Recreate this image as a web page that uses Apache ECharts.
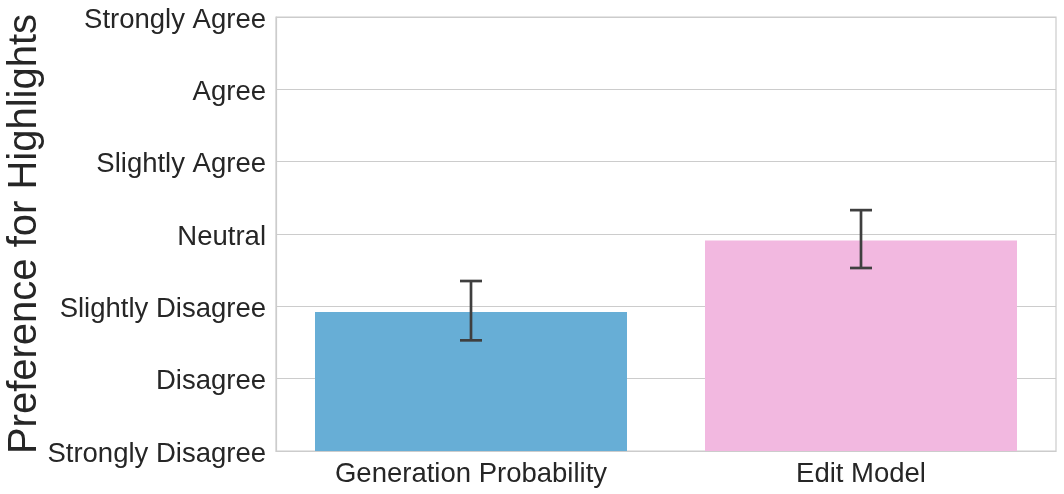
<!DOCTYPE html>
<html>
<head>
<meta charset="utf-8">
<script src="https://cdn.jsdelivr.net/npm/echarts@6/dist/echarts.min.js"></script>
<style>html,body{margin:0;padding:0;background:#fff;}#c{width:1064px;height:494px;}</style>
</head>
<body>
<div id="c"></div>
<script>
const categories = ['Generation Probability', 'Edit Model'];
const means = [2.92, 3.91];
const errLow = [2.53, 3.53];
const errHigh = [3.35, 4.33];
const barColors = ['#67AED6', '#F2B8E0'];
const tickLabels = ['Strongly Disagree', 'Disagree', 'Slightly Disagree', 'Neutral', 'Slightly Agree', 'Agree', 'Strongly Agree'];

const chart = echarts.init(document.getElementById('c'), null, {renderer: 'canvas'});
const font = 'Liberation Sans, Arial, sans-serif';
chart.setOption({
  animation: false,
  grid: {left: 276, right: 8, top: 17, bottom: 43, show: true, borderColor: '#cccccc', borderWidth: 1.2,
         containLabel: false, outerBoundsMode: 'none'},
  xAxis: {
    type: 'category',
    data: categories,
    axisLine: {show: true, lineStyle: {color: '#cccccc', width: 1.2}},
    axisTick: {show: false},
    axisLabel: {fontSize: 27.5, color: '#262626', fontFamily: font, margin: 9}
  },
  yAxis: {
    type: 'value',
    min: 1, max: 7, interval: 1,
    name: 'Preference for Highlights',
    nameLocation: 'middle',
    nameGap: 231,
    nameMoveOverlap: false,
    nameTextStyle: {fontSize: 40, color: '#262626', fontFamily: font},
    axisLine: {show: true, lineStyle: {color: '#cccccc', width: 1.2}},
    axisTick: {show: false},
    splitLine: {lineStyle: {color: '#cccccc', width: 1.2}},
    axisLabel: {
      fontSize: 27.5, color: '#262626', fontFamily: font, margin: 10,
      formatter: v => '{a|' + tickLabels[Math.round(v) - 1] + '}',
      rich: {a: {fontSize: 27.5, color: '#262626', fontFamily: font, padding: [6, 0, 0, 0]}}
    }
  },
  series: [
    {
      type: 'bar',
      barCategoryGap: '20%',
      data: means.map((v, i) => ({value: v, itemStyle: {color: barColors[i]}})),
      z: 2
    },
    {
      type: 'custom',
      z: 5,
      data: categories.map((c, i) => [i, errLow[i], errHigh[i]]),
      renderItem: function (params, api) {
        const lo = api.coord([api.value(0), api.value(1)]);
        const hi = api.coord([api.value(0), api.value(2)]);
        const hw = 11;
        const style = {stroke: '#3f3f3f', lineWidth: 2.7};
        return {
          type: 'group',
          children: [
            {type: 'line', shape: {x1: lo[0], y1: lo[1], x2: hi[0], y2: hi[1]}, style: style},
            {type: 'line', shape: {x1: lo[0] - hw, y1: lo[1], x2: lo[0] + hw, y2: lo[1]}, style: style},
            {type: 'line', shape: {x1: hi[0] - hw, y1: hi[1], x2: hi[0] + hw, y2: hi[1]}, style: style}
          ]
        };
      }
    }
  ]
});
</script>
</body>
</html>
